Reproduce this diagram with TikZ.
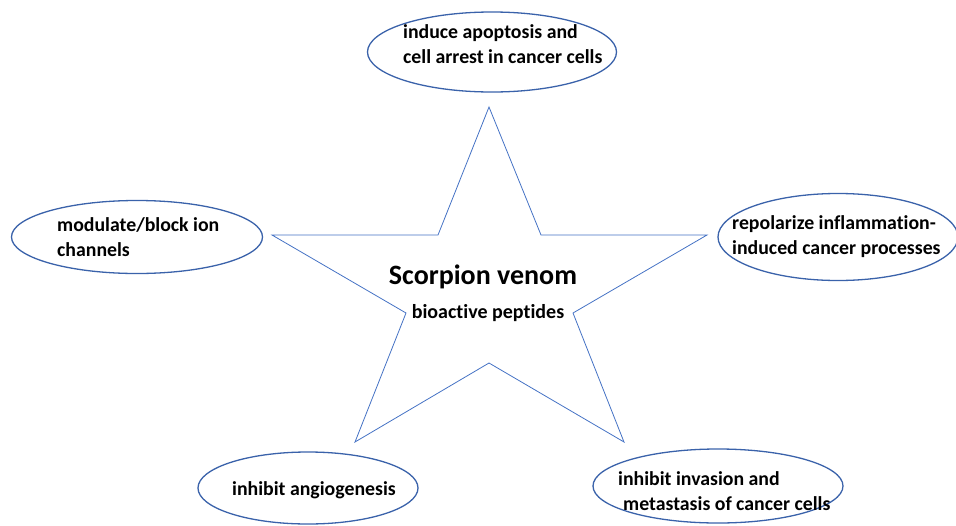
\documentclass[tikz,border=0pt]{standalone}
\usepackage{fontspec}
\setmainfont{Carlito}[Ligatures=NoCommon]
\usetikzlibrary{shapes.geometric}
\definecolor{starblue}{RGB}{68,114,196}
\definecolor{ovalblue}{RGB}{58,98,170}
\tikzset{
  oval/.style={draw=ovalblue,line width=1.3pt,ellipse,inner sep=0pt},
  effect/.style={font=\bfseries\fontsize{19.8}{25}\selectfont,align=left,anchor=base west,inner sep=0pt},
}
\begin{document}
\begin{tikzpicture}[x=1pt,y=-1pt]
    \useasboundingbox (0,0) rectangle (956,525);
    \draw[starblue,line width=0.8pt] (489,107) -- (541,235) -- (707,235) -- (573,313) -- (624,442) -- (489,363)
        -- (355,442) -- (406,313) -- (272,235) -- (438,235) -- cycle;
    \node[font=\bfseries\fontsize{28}{32}\selectfont,anchor=base,inner sep=0pt] (venom) at (483,284) {Scorpion venom};
    \node[font=\bfseries\fontsize{20}{24}\selectfont,anchor=base,inner sep=0pt] (peptides) at (488,318) {bioactive peptides};
    \node[oval,minimum width=249pt,minimum height=80pt] (apoptosis) at (492,52) {};
    \node[effect] (apoptosis text) at (403,63) {induce apoptosis and\\cell arrest in cancer cells};
    \node[oval,minimum width=251pt,minimum height=73pt] (ion) at (137,237) {};
    \node[effect] (ion text) at (57,256) {modulate/block ion\\channels};
    \node[oval,minimum width=240pt,minimum height=87pt] (inflammation) at (838,237) {};
    \node[effect] (inflammation text) at (732,254) {repolarize inflammation-\\induced cancer processes};
    \node[oval,minimum width=220pt,minimum height=72pt] (angiogenesis) at (308,488) {};
    \node[effect] (angiogenesis text) at (232,495) {inhibit angiogenesis};
    \node[oval,minimum width=250pt,minimum height=74pt] (invasion) at (718,486) {};
    \node[effect] (invasion text) at (618,510) {inhibit invasion and\\\hspace{5pt}metastasis of cancer cells};
\end{tikzpicture}
\end{document}
